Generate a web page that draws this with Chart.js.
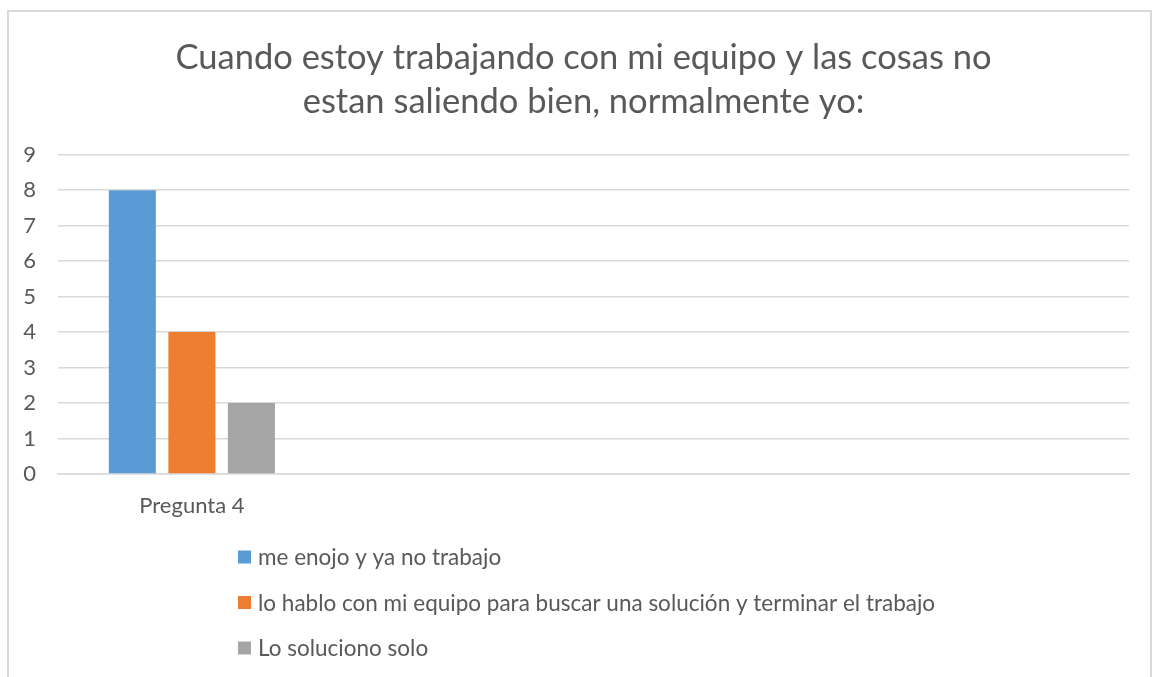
<!DOCTYPE html>
<html>
<head>
<meta charset="utf-8">
<script src="https://cdn.jsdelivr.net/npm/chart.js@4.4.1/dist/chart.umd.min.js"></script>
<style>
  html, body { margin: 0; padding: 0; background: #ffffff; }
  #wrap { position: relative; width: 1158px; height: 677px; overflow: hidden; }
  #frame { position: absolute; left: 7px; top: 10px; width: 1145px; height: 700px; border: 2px solid #d9d9d9; box-sizing: border-box; pointer-events: none; }
  #c { position: absolute; left: 0; top: 0; }
</style>
</head>
<body>
<div id="wrap">
  <div id="frame"></div>
  <canvas id="c" width="1158" height="677"></canvas>
</div>
<script>
const titleLines = ["Cuando estoy trabajando con mi equipo y las cosas no", "estan saliendo bien, normalmente yo:"];
const categories = ["Pregunta 4", "", "", ""];
const seriesNames = [
  "me enojo y ya no trabajo",
  "lo hablo con mi equipo para buscar una solución y terminar el trabajo",
  "Lo soluciono solo"
];
const seriesEnojo = [8, null, null, null];
const seriesHablo = [4, null, null, null];
const seriesSolo = [2, null, null, null];
const yTicks = [0, 1, 2, 3, 4, 5, 6, 7, 8, 9];

const FONT = "Lato, 'Open Sans', sans-serif";
const TEXT = "#595959";
const colors = ["#5B9BD5", "#ED7D31", "#A5A5A5"];

const titleShift = {
  id: "titleShift",
  afterLayout(chart) {
    const t = chart.titleBlock;
    if (t) { t.left = 38; t.right = 1129; }
  }
};

const legendPlugin = {
  id: "stackedLegend",
  afterDraw(chart) {
    const ctx = chart.ctx;
    const ds = chart.data.datasets;
    ctx.save();
    ctx.font = "22.5px " + FONT;
    ctx.textBaseline = "middle";
    ctx.textAlign = "left";
    const box = 13, gap = 7;
    let maxW = 0;
    ds.forEach(d => { maxW = Math.max(maxW, ctx.measureText(d.label).width); });
    const blockW = box + gap + maxW;
    const left = Math.round(chart.width / 2 + 8 - blockW / 2);
    const top = chart.chartArea.bottom + 83;
    ds.forEach((d, i) => {
      const y = top + i * 45.5;
      ctx.fillStyle = d.backgroundColor;
      ctx.fillRect(left, y - box / 2, box, box);
      ctx.fillStyle = TEXT;
      ctx.fillText(d.label, left + box + gap, y + 1);
    });
    ctx.restore();
  }
};

new Chart(document.getElementById("c"), {
  type: "bar",
  data: {
    labels: categories,
    datasets: [
      { label: seriesNames[0], data: seriesEnojo, backgroundColor: colors[0] },
      { label: seriesNames[1], data: seriesHablo, backgroundColor: colors[1] },
      { label: seriesNames[2], data: seriesSolo, backgroundColor: colors[2] }
    ]
  },
  options: {
    responsive: false,
    animation: false,
    devicePixelRatio: 1,
    layout: { padding: { left: 0, right: 29, top: 0, bottom: 153 } },
    datasets: { bar: { categoryPercentage: 0.667, barPercentage: 0.79 } },
    plugins: {
      legend: { display: false },
      tooltip: { enabled: false },
      title: {
        display: true,
        text: titleLines,
        color: TEXT,
        font: { family: FONT, size: 34.5, weight: "normal", lineHeight: 1.3 },
        padding: { top: 35, bottom: 30 }
      }
    },
    scales: {
      x: {
        grid: { display: false },
        border: { display: true, color: "#d9d9d9", width: 1.5 },
        ticks: { color: TEXT, font: { family: FONT, size: 22 }, padding: 11, maxRotation: 0 },
        afterFit(scale) { scale.height = 50; }
      },
      y: {
        min: 0,
        max: 9,
        afterBuildTicks(scale) { scale.ticks = yTicks.map(v => ({ value: v })); },
        grid: { color: "#d9d9d9", lineWidth: 1.5, drawTicks: false },
        border: { display: false },
        ticks: { color: TEXT, font: { family: FONT, size: 22 }, padding: 22, align: "center" },
        afterFit(scale) { scale.width = 58; }
      }
    }
  },
  plugins: [titleShift, legendPlugin]
});
</script>
</body>
</html>
